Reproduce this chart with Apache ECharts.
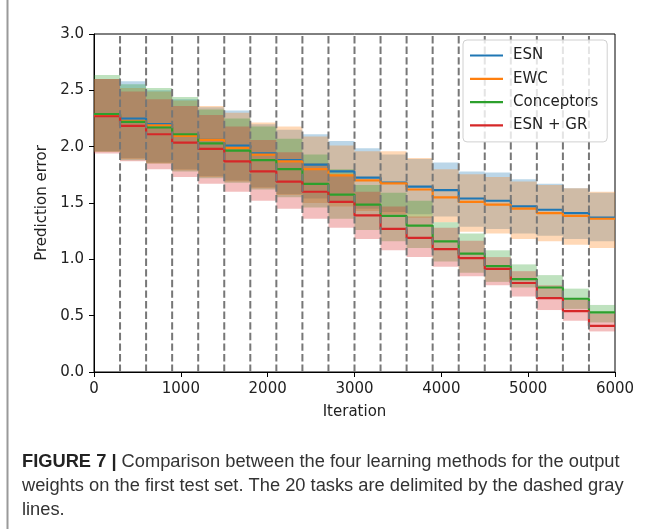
<!DOCTYPE html>
<html>
<head>
<meta charset="utf-8">
<script src="https://cdn.jsdelivr.net/npm/echarts@6/dist/echarts.min.js"></script>
<style>
html,body{margin:0;padding:0;background:#fff;}
#c{width:652px;height:529px;}
</style>
</head>
<body>
<div id="c"></div>
<script>
// ---- data ----
const taskLength = 300;
const taskBoundaries = [300,600,900,1200,1500,1800,2100,2400,2700,3000,3300,3600,3900,4200,4500,4800,5100,5400,5700];
const xTicks = [0,1000,2000,3000,4000,5000,6000];
const yTicks = [0,0.5,1.0,1.5,2.0,2.5,3.0];
const seriesNames = ['ESN','EWC','Conceptors','ESN + GR'];

// mean prediction error per task (plateau)
const esnMean  = [2.28,2.25,2.20,2.10,2.06,2.01,1.94,1.88,1.84,1.78,1.725,1.68,1.645,1.615,1.54,1.52,1.47,1.44,1.41,1.37];
const ewcMean  = [2.28,2.225,2.19,2.095,2.06,1.99,1.93,1.87,1.80,1.745,1.70,1.675,1.62,1.55,1.51,1.485,1.45,1.41,1.385,1.36];
const concMean = [2.29,2.22,2.17,2.11,2.03,1.965,1.88,1.80,1.67,1.575,1.485,1.385,1.30,1.16,1.05,0.94,0.825,0.75,0.65,0.53];
const grMean   = [2.27,2.185,2.11,2.035,1.98,1.87,1.78,1.69,1.60,1.51,1.39,1.27,1.19,1.09,1.01,0.915,0.79,0.655,0.54,0.41];

// band edges per task
const esnUpper  = [2.60,2.58,2.50,2.42,2.35,2.32,2.20,2.15,2.11,2.05,1.985,1.93,1.89,1.86,1.78,1.77,1.71,1.67,1.63,1.59];
const esnLower  = [1.96,1.90,1.86,1.80,1.74,1.70,1.64,1.58,1.54,1.50,1.45,1.42,1.40,1.38,1.29,1.27,1.23,1.21,1.18,1.16];
const ewcUpper  = [2.60,2.52,2.49,2.41,2.36,2.30,2.215,2.18,2.09,2.01,1.96,1.96,1.90,1.80,1.755,1.73,1.69,1.66,1.63,1.60];
const ewcLower  = [1.955,1.89,1.85,1.79,1.73,1.69,1.63,1.57,1.50,1.47,1.43,1.40,1.37,1.33,1.245,1.23,1.18,1.16,1.13,1.10];
const concUpper = [2.635,2.555,2.52,2.44,2.33,2.25,2.18,2.07,1.93,1.80,1.66,1.59,1.52,1.33,1.23,1.08,0.955,0.86,0.74,0.595];
const concLower = [1.955,1.88,1.85,1.78,1.72,1.68,1.62,1.55,1.46,1.36,1.26,1.16,1.10,0.98,0.88,0.80,0.75,0.66,0.56,0.44];
const grUpper   = [2.60,2.49,2.42,2.36,2.28,2.18,2.06,1.95,1.85,1.74,1.60,1.47,1.38,1.28,1.165,1.02,0.895,0.77,0.645,0.52];
const grLower   = [1.94,1.87,1.80,1.73,1.67,1.60,1.52,1.45,1.36,1.28,1.18,1.08,1.02,0.935,0.85,0.77,0.67,0.55,0.455,0.36];

const colors = ['#1f77b4','#ff7f0e','#2ca02c','#d62728'];
const bandColors = ['rgba(31,119,180,0.3)','rgba(255,127,14,0.3)','rgba(44,160,44,0.3)','rgba(214,39,40,0.3)'];

// ---- build ----
function stepLine(means){
  const out = [];
  means.forEach((v,k)=>{ out.push([k*taskLength, v]); out.push([(k+1)*taskLength, v]); });
  return out;
}
function bandData(lo, hi){
  return lo.map((v,k)=>[k*taskLength,(k+1)*taskLength,v,hi[k]]);
}
function bandSeries(lo, hi, color){
  return {
    type:'custom', silent:true, z:2,
    data: bandData(lo, hi),
    encode:{x:[0,1], y:[2,3]},
    renderItem:function(params, api){
      const p1 = api.coord([api.value(0), api.value(3)]);
      const p2 = api.coord([api.value(1), api.value(2)]);
      return {type:'rect', shape:{x:p1[0], y:p1[1], width:p2[0]-p1[0], height:p2[1]-p1[1]},
              style:{fill:color}};
    }
  };
}
function lineSeries(name, means, color){
  return {name:name, type:'line', data:stepLine(means), symbol:'none', showSymbol:false, z:2,
          lineStyle:{color:color, width:2.2}, itemStyle:{color:color}, silent:true, animation:false};
}

const means = [esnMean, ewcMean, concMean, grMean];
const lows = [esnLower, ewcLower, concLower, grLower];
const highs = [esnUpper, ewcUpper, concUpper, grUpper];
const series = [];
for (let i=0;i<4;i++){
  series.push(bandSeries(lows[i], highs[i], bandColors[i]));
  series.push(lineSeries(seriesNames[i], means[i], colors[i]));
}
series.push({
  type:'custom', silent:true, z:3,
  data: taskBoundaries.map(x=>[x]),
  encode:{x:0},
  renderItem:function(params, api){
    const x = api.value(0);
    const a = api.coord([x, yTicks[0]]);
    const b = api.coord([x, yTicks[yTicks.length-1]]);
    return {type:'line', shape:{x1:a[0], y1:a[1], x2:b[0], y2:b[1]},
            style:{stroke:'#777777', lineWidth:2, lineDash:[7.4,3.2]}};
  }
});

const font = 'DejaVu Sans';
const fs = 15;
const chart = echarts.init(document.getElementById('c'), null, {renderer:'canvas'});
chart.setOption({
  animation:false,
  backgroundColor:'#fff',
  textStyle:{fontFamily:font},
  grid:{left:94, right:37, top:34, bottom:157, show:true, borderColor:'#000', borderWidth:1, backgroundColor:'transparent'},
  legend:{
    data:seriesNames.map(n=>({name:n, icon:'rect'})), orient:'vertical', left:463, top:40,
    padding:[8,9,9,7], itemGap:8.3, itemWidth:33, itemHeight:2.2,
    borderColor:'#d0d0d0', borderWidth:1, borderRadius:4, backgroundColor:'rgba(255,255,255,0.8)',
    textStyle:{fontFamily:font, fontSize:fs, color:'#222', padding:[0,0,0,5]},
    selectedMode:false
  },
  xAxis:{
    type:'value', min:xTicks[0], max:xTicks[xTicks.length-1], interval:1000,
    name:'Iteration', nameLocation:'middle', nameGap:33,
    nameTextStyle:{fontFamily:font, fontSize:fs, color:'#222'},
    axisLine:{onZero:false, lineStyle:{color:'#000', width:1}},
    axisTick:{show:true, length:5, lineStyle:{color:'#000'}},
    axisLabel:{fontFamily:font, fontSize:fs, color:'#222', margin:10, formatter:v=>String(v)},
    splitLine:{show:false}
  },
  yAxis:{
    type:'value', min:yTicks[0], max:yTicks[yTicks.length-1], interval:0.5,
    name:'Prediction error', nameLocation:'middle', nameGap:41,
    nameTextStyle:{fontFamily:font, fontSize:fs, color:'#222'},
    axisLine:{show:true, onZero:false, lineStyle:{color:'#000', width:1}},
    axisTick:{show:true, length:5, lineStyle:{color:'#000'}},
    axisLabel:{fontFamily:font, fontSize:fs, color:'#222', margin:10, formatter:v=>v.toFixed(1)},
    splitLine:{show:false}
  },
  graphic:[
    {type:'line', shape:{x1:7.5,y1:0,x2:7.5,y2:529}, style:{stroke:'#9a9a9a', lineWidth:2}},
    {type:'text', left:22, top:453, style:{
      text:'{b|FIGURE 7 |} Comparison between the four learning methods for the output',
      font:'18.3px "Liberation Sans"', fill:'#333',
      rich:{b:{font:'bold 18.3px "Liberation Sans"', fill:'#222'}}}},
    {type:'text', left:22, top:477, style:{
      text:'weights on the first test set. The 20 tasks are delimited by the dashed gray',
      font:'18.3px "Liberation Sans"', fill:'#333'}},
    {type:'text', left:22, top:501, style:{
      text:'lines.', font:'18.3px "Liberation Sans"', fill:'#333'}}
  ],
  series:series
});
</script>
</body>
</html>
